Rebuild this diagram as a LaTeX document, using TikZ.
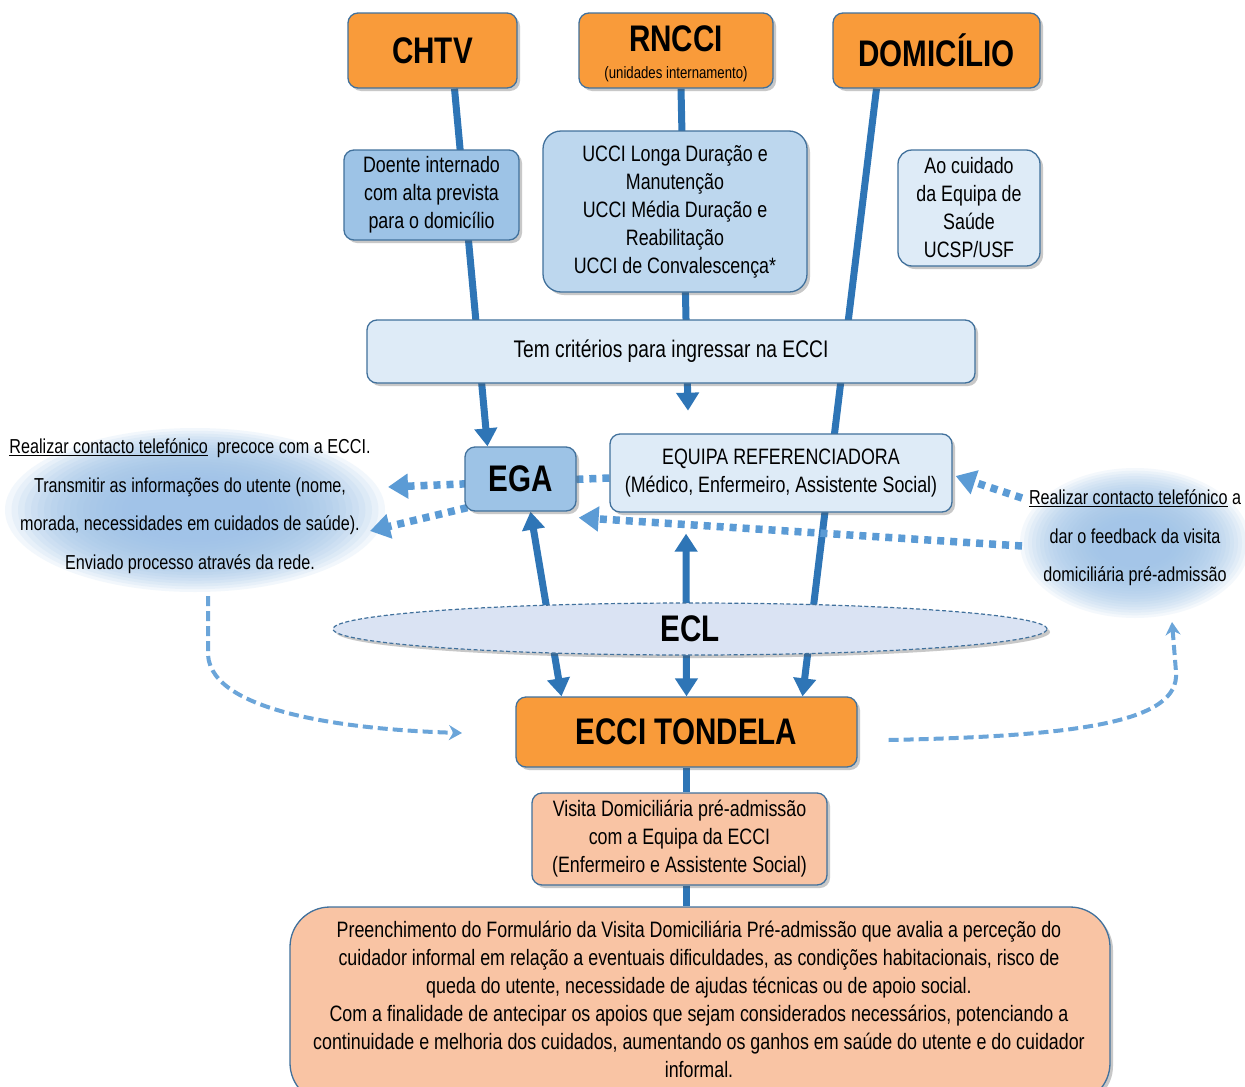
\documentclass[tikz,border=0pt]{standalone}
\usepackage{fontspec}
\setmainfont[FakeStretch=0.8]{Liberation Sans}
\usetikzlibrary{arrows.meta,shapes.geometric,shadows,calc}
\definecolor{orng}{HTML}{F99B3A}
\definecolor{bord}{HTML}{41719C}
\definecolor{midb}{HTML}{9DC3E6}
\definecolor{ltb}{HTML}{BDD7EE}
\definecolor{pale}{HTML}{DEEBF7}
\definecolor{eclc}{HTML}{DAE3F3}
\definecolor{salm}{HTML}{F9C4A4}
\definecolor{thk}{HTML}{2E75B6}
\definecolor{dotc}{HTML}{5B9BD5}
\definecolor{glowc}{HTML}{9EC3E8}
\pgfdeclarelayer{glowlayer}
\pgfdeclarelayer{bglayer}
\pgfsetlayers{glowlayer,bglayer,main}
\newcommand\bodyfnt{\fontsize{22.3}{28}\selectfont}
\newcommand\bigfnt{\fontsize{37}{40}\selectfont\bfseries}
\newcommand\sidefnt{\fontsize{20.2}{38.5}\selectfont}
\begin{document}
\begin{tikzpicture}[x=1pt,y=-1pt,
  box/.style={draw=bord, line width=1.3pt, rounded corners=10pt, align=center, inner sep=2pt,
    drop shadow={shadow xshift=3pt, shadow yshift=-3pt, opacity=0.3, fill=black!70}},
  orangebox/.style={box, fill=orng, font=\bigfnt},
  thkline/.style={draw=thk, line width=7pt},
  tri/.tip={Triangle[width=22pt,length=18pt]},
  dotline/.style={draw=dotc, line width=7.5pt, dash pattern=on 7pt off 6pt, -{Triangle[width=24pt,length=20pt]}},
  dcurve/.style={draw=dotc!90, line width=4pt, dash pattern=on 10pt off 5pt, -{Stealth[width=15pt,length=13pt]}}
]
\useasboundingbox (0,0) rectangle (1245,1087);
\begin{pgfonlayer}{glowlayer}
\fill[white] (0,0) rectangle (1245,1087);
\end{pgfonlayer}
\clip (0,0) rectangle (1245,1087);

% top boxes
\node[orangebox, minimum width=169pt, minimum height=75pt] (chtv) at (432.5,50.5) {CHTV};
\node[box, fill=orng, minimum width=194pt, minimum height=75pt] (rncci) at (676,50.5) {};
\node[font=\bigfnt, inner sep=0pt] (rnccit) at (676,39) {RNCCI};
\node[font=\fontsize{16.5}{17}\selectfont, inner sep=0pt] (rnccis) at (676,74) {(unidades internamento)};
\node[orangebox, minimum width=207pt, minimum height=75pt] (dom) at (936.5,50.5) {DOMICÍLIO};

% second row
\node[box, fill=midb, minimum width=175pt, minimum height=90pt, font=\bodyfnt] (doente) at (431.5,195) {Doente internado\\com alta prevista\\para o domicílio};
\node[box, fill=ltb, minimum width=264pt, minimum height=161pt, font=\bodyfnt, rounded corners=18pt] (ucci) at (675,211.5) {UCCI Longa Duração e\\Manutenção\\UCCI Média Duração e\\Reabilitação\\UCCI de Convalescença*};
\node[box, fill=pale, minimum width=142pt, minimum height=116pt, font=\bodyfnt, rounded corners=14pt] (cuid) at (969,208) {Ao cuidado\\da Equipa de\\Saúde\\UCSP/USF};

\node[box, fill=pale, minimum width=608pt, minimum height=63pt, font=\fontsize{24}{28}\selectfont] (tem) at (671,351.5) {Tem critérios para ingressar na ECCI};

\node[box, fill=midb, minimum width=111pt, minimum height=64pt, font=\bigfnt] (ega) at (520.5,479) {EGA};
\node[box, fill=pale, minimum width=342pt, minimum height=78pt, font=\bodyfnt] (equipa) at (781,473) {EQUIPA REFERENCIADORA\\(Médico, Enfermeiro, Assistente Social)};

\node[ellipse, draw=bord, line width=1.2pt, dash pattern=on 4pt off 2.5pt, fill=eclc, minimum width=714pt, minimum height=52pt, font=\bigfnt,
  drop shadow={shadow xshift=3pt, shadow yshift=-3pt, opacity=0.3, fill=black!70}] (ecl) at (690,629) {ECL};

\node[orangebox, minimum width=341pt, minimum height=70pt] (ecci) at (686.5,732) {ECCI TONDELA};
\node[box, fill=salm, minimum width=295pt, minimum height=92pt, font=\bodyfnt] (visita) at (679.5,839) {Visita Domiciliária pré-admissão\\com a Equipa da ECCI\\(Enfermeiro e Assistente Social)};
\node[box, fill=salm, minimum width=820pt, minimum height=196pt, rounded corners=40pt, font=\bodyfnt] (pre) at (700,1005) {};
\node[font=\bodyfnt, align=center, inner sep=0pt] (pretext) at (699,999.5) {Preenchimento do Formulário da Visita Domiciliária Pré-admissão que avalia a perceção do\\cuidador informal em relação a eventuais dificuldades, as condições habitacionais, risco de\\queda do utente, necessidade de ajudas técnicas ou de apoio social.\\Com a finalidade de antecipar os apoios que sejam considerados necessários, potenciando a\\continuidade e melhoria dos cuidados, aumentando os ganhos em saúde do utente e do cuidador\\informal.};

% side texts
\node[font=\sidefnt, align=center, inner sep=0pt] (lefttxt) at (190,506) {\underline{Realizar contacto telefónico}\ \ precoce com a ECCI.\\Transmitir as informações do utente (nome,\\morada, necessidades em cuidados de saúde).\\Enviado processo através da rede.};
\node[font=\sidefnt, align=center, inner sep=0pt] (righttxt) at (1135,538) {\underline{Realizar contacto telefónico} a\\dar o feedback da visita\\domiciliária pré-admissão};

% free ends
\coordinate (lt1) at (388,487);
\coordinate (lt2) at (370,531);
\coordinate (rt1) at (1022,498);
\coordinate (rt2) at (1022,546);
\coordinate (lc1) at (208,596);
\coordinate (lc2) at (462,733);
\coordinate (rc1) at (1172,622);

\begin{pgfonlayer}{glowlayer}
\foreach \i in {0,...,19} {
  \fill[glowc, opacity=0.13] (195,510) ellipse [x radius={190-6.5*\i}, y radius={82-2.8*\i}];
  \fill[glowc, opacity=0.11] (1135,543) ellipse [x radius={115-4*\i}, y radius={75-2.7*\i}];
}
\end{pgfonlayer}

\begin{pgfonlayer}{bglayer}
\draw[thkline, -tri] ([xshift=22pt]chtv.south) -- ([xshift=-33pt]ega.north);
\draw[thkline, -tri] ([xshift=5pt]rncci.south) -- ([xshift=17pt,yshift=-27pt]tem.south);
\draw[thkline, -tri] ([xshift=-60pt]dom.south) -- ([xshift=116pt]ecci.north);
\draw[thkline, tri-tri] ([xshift=10pt]ega.south) -- ([xshift=-125pt]ecci.north);
\draw[thkline, tri-tri, shorten <=21pt] ([xshift=-95pt]equipa.south) -- (ecci.north);
\draw[thkline] (ecci.south) -- (ecci.south |- visita.north);
\draw[thkline] (ecci.south |- visita.south) -- (ecci.south |- pre.north);

\draw[dotline] ([yshift=-5pt]equipa.west) -- (lt1);
\draw[dotline] ([xshift=3pt,yshift=4pt]ega.south west) -- (lt2);
\draw[dotline] (rt1) -- ([xshift=3pt,yshift=-3pt]equipa.east);
\draw[dotline] (rt2) -- ([xshift=2pt,yshift=-6pt]ega.south east);

\draw[dcurve] (lc1) -- (208,655) .. controls (212,715) and (360,730) .. (lc2);
\draw[dcurve] ([xshift=31pt,yshift=-8pt]ecci.east) .. controls (1080,736) and (1180,722) .. (1176,672) -- (rc1);
\end{pgfonlayer}
\end{tikzpicture}
\end{document}
